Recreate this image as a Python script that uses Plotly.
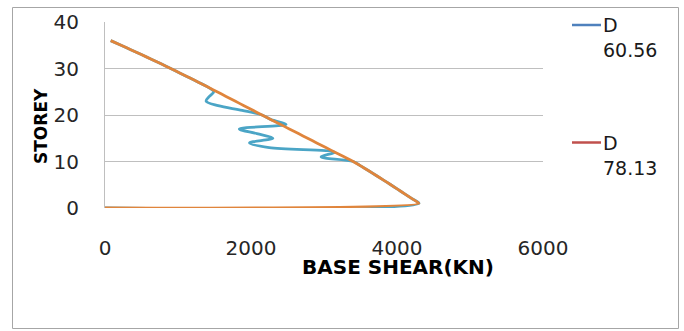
import plotly.graph_objects as go

# ---- data ----
storey = list(range(0, 37))
shear_d7813 = [0, 4300, 4205, 4110, 4012, 3915, 3815, 3715, 3612, 3508, 3400,
               3275, 3150, 3025, 2900, 2775, 2650, 2525, 2400, 2275, 2150,
               2027, 1904, 1781, 1658, 1535, 1410, 1285, 1158, 1030, 900,
               768, 634, 498, 360, 220, 78]
shear_d6056 = [0, 4300, 4205, 4110, 4012, 3915, 3815, 3715, 3612, 3508, 3400,
               2960, 3150, 2250, 1980, 2300, 2080, 1840, 2480, 2275, 2150,
               1880, 1550, 1385, 1430, 1490, 1410, 1285, 1158, 1030, 900,
               768, 634, 498, 360, 220, 78]
series_names = ["D<br>60.56", "D<br>78.13"]
x_ticks = [0, 2000, 4000, 6000]
y_ticks = [0, 10, 20, 30, 40]

W, H = 684, 331
ML, MR, MT, MB = 105, 684 - 543, 22, 331 - 208
PW, PH = W - ML - MR, H - MT - MB


def px(xp):
    return (xp - ML) / PW


def py(yp):
    return (H - MB - yp) / PH


FONT = "DejaVu Sans"

fig = go.Figure()
fig.add_trace(go.Scatter(x=shear_d6056, y=storey, mode="lines",
                         line=dict(color="#4BA5C6", width=2.8, shape="spline", smoothing=1.0),
                         showlegend=False))
fig.add_trace(go.Scatter(x=shear_d7813, y=storey, mode="lines",
                         line=dict(color="#E0853C", width=2.8, shape="spline", smoothing=0.6),
                         showlegend=False))

shapes = []
# outer chart border
shapes.append(dict(type="rect", xref="paper", yref="paper",
                   x0=px(12.5), x1=px(678.5), y0=py(328.5), y1=py(7.5),
                   line=dict(color="#A6A6A6", width=1), layer="above"))
# legend samples
legend_colors = ["#4F81BD", "#C0504D"]
legend_y = [25, 142.5]
annotations = []
for name, col, ly in zip(series_names, legend_colors, legend_y):
    shapes.append(dict(type="line", xref="paper", yref="paper",
                       x0=px(572), x1=px(601), y0=py(ly), y1=py(ly),
                       line=dict(color=col, width=2.5)))
    annotations.append(dict(xref="paper", yref="paper", x=px(601), y=py(ly - 13),
                            xanchor="left", yanchor="top", align="left",
                            text=name, showarrow=False,
                            font=dict(family=FONT, size=19, color="#1a1a1a")))

annotations.append(dict(xref="paper", yref="paper", x=px(398), y=py(267),
                        xanchor="center", yanchor="middle", text="<b>BASE SHEAR(KN)</b>",
                        showarrow=False, font=dict(family=FONT, size=20, color="#000000")))
annotations.append(dict(xref="paper", yref="paper", x=px(41.5), y=py(126.5),
                        xanchor="center", yanchor="middle", text="<b>STOREY</b>",
                        textangle=-90, showarrow=False,
                        font=dict(family=FONT, size=17, color="#000000")))

fig.update_layout(
    width=W, height=H,
    margin=dict(l=ML, r=MR, t=MT, b=MB, autoexpand=False),
    paper_bgcolor="white", plot_bgcolor="white",
    shapes=shapes, annotations=annotations,
    xaxis=dict(range=[0, 6000], tickvals=x_ticks, showgrid=False, zeroline=False,
               showline=False, ticks="", ticklabelstandoff=26, automargin=False,
               tickfont=dict(family=FONT, size=20, color="#262626")),
    yaxis=dict(range=[0, 40], tickvals=y_ticks, showgrid=True, gridcolor="#BFBFBF",
               gridwidth=1, zeroline=False, showline=True, linecolor="#BFBFBF",
               linewidth=1, ticks="", ticklabelstandoff=21, automargin=False,
               tickfont=dict(family=FONT, size=20, color="#262626")),
    showlegend=False,
    hovermode=False,
)

fig.write_html("out.html",
               config={"displayModeBar": False, "staticPlot": True},
               post_script="document.body.style.margin='0';document.body.style.overflow='hidden';")
